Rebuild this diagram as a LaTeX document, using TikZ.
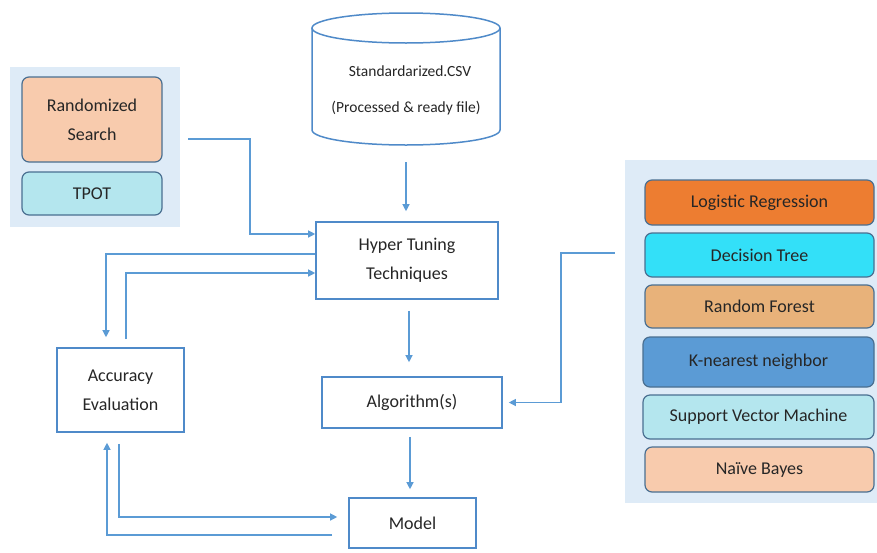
\documentclass[tikz,border=0pt]{standalone}
\usepackage{fontspec}
\setmainfont{Carlito}
\usetikzlibrary{arrows.meta}
\definecolor{lineblue}{HTML}{5B9BD5}
\definecolor{boxblue}{HTML}{4F8AC9}
\definecolor{panelbg}{HTML}{DEEBF7}
\definecolor{rborder}{HTML}{4A6F91}
\definecolor{peach}{HTML}{F8CBAD}
\definecolor{lcyan}{HTML}{B4E6EE}
\definecolor{orangeb}{HTML}{ED7D31}
\definecolor{cyanb}{HTML}{33E0F8}
\definecolor{tanb}{HTML}{E8B27A}
\definecolor{knnb}{HTML}{5B9BD5}
\definecolor{txt}{HTML}{262626}
\tikzset{
  arr/.style={draw=lineblue, line width=1.2pt, -{Triangle[width=7pt,length=7pt]}},
  mainbox/.style={draw=boxblue, line width=1.6pt, fill=white, text=txt, align=center, font=\fontsize{18}{29}\selectfont, inner sep=0pt},
  panel/.style={fill=panelbg, draw=none, inner sep=0pt},
  rbox/.style={draw=rborder, line width=1.2pt, rounded corners=7pt, text=txt, align=center, font=\fontsize{18}{29}\selectfont, inner sep=0pt},
}
\begin{document}
\begin{tikzpicture}[x=1pt,y=-1pt]
\useasboundingbox (0,0) rectangle (877,552);
\fill[white] (0,0) rectangle (877,552);
% panels
\node[panel, minimum width=170pt, minimum height=160pt] (lpanel) at (95,147) {};
\node[panel, minimum width=270pt, minimum height=343pt] (rpanel) at (760,331.5) {};
% left panel boxes
\node[rbox, fill=peach, minimum width=140pt, minimum height=85pt] (rs) at (92,119.5) {Randomized\\Search};
\node[rbox, fill=lcyan, minimum width=140pt, minimum height=43pt] (tpot) at (92,193.5) {TPOT};
% right panel boxes
\node[rbox, fill=orangeb, minimum width=229pt, minimum height=45pt] (lr) at (759.5,202.5) {Logistic Regression};
\node[rbox, fill=cyanb, minimum width=229pt, minimum height=44pt] (dt) at (759.5,255) {Decision Tree};
\node[rbox, fill=tanb, minimum width=229pt, minimum height=43pt] (rf) at (759.5,306.5) {Random Forest};
\node[rbox, fill=knnb, minimum width=231pt, minimum height=50pt] (knn) at (758.5,362) {K-nearest neighbor};
\node[rbox, fill=lcyan, minimum width=231pt, minimum height=44pt] (svm) at (758.5,417) {Support Vector Machine};
\node[rbox, fill=peach, minimum width=229pt, minimum height=45pt] (nb) at (759.5,469.5) {Naïve Bayes};
% cylinder
\draw[draw=boxblue, line width=1.5pt, fill=white] (312,28) -- (312,130) arc[start angle=180, end angle=360, x radius=94, y radius=-15] -- (500,28);
\draw[draw=boxblue, line width=1.5pt, fill=white] (406,28) ellipse[x radius=94, y radius=15];
\node[inner sep=0pt, minimum width=188pt, minimum height=132pt] (csv) at (406,79) {};
\node[text=txt, font=\fontsize{15.5}{20}\selectfont] (csvt1) at (410,71) {Standardarized.CSV};
\node[text=txt, font=\fontsize{15.5}{20}\selectfont] (csvt2) at (406,108) {(Processed \& ready file)};
% main boxes
\node[mainbox, minimum width=182pt, minimum height=77pt] (hyper) at (407,260.5) {Hyper Tuning\\Techniques};
\node[mainbox, minimum width=180pt, minimum height=51pt] (algo) at (412,402.5) {Algorithm(s)};
\node[mainbox, minimum width=127pt, minimum height=50pt] (model) at (412.5,523) {Model};
\node[mainbox, minimum width=127pt, minimum height=84pt] (acc) at (120.5,390) {Accuracy\\Evaluation};
% connectors
\draw[arr, shorten <=17pt, shorten >=10pt] (csv.south) -- (csv.south |- hyper.north);
\draw[arr, shorten <=11pt, shorten >=14pt] ([xshift=2pt]hyper.south) -- ([xshift=2pt]hyper.south |- algo.north);
\draw[arr, shorten <=8pt, shorten >=8pt] ([xshift=-2pt]algo.south) -- ([xshift=-2pt]algo.south |- model.north);
\coordinate (rsout) at (188,139);
\draw[arr] (rsout) -- (250,139) |- ([yshift=26.5pt]hyper.west);
\draw[arr, shorten >=10pt] ([yshift=6.5pt]hyper.west) -| ([xshift=-14.5pt]acc.north);
\draw[arr, shorten <=8pt] ([xshift=5.5pt]acc.north) |- ([yshift=-12.5pt]hyper.west);
\draw[arr, shorten >=6pt] ([xshift=-10pt,yshift=78.5pt]rpanel.west) -- (561,253) |- (algo.east);
\draw[arr, shorten <=11pt, shorten >=11pt] ([xshift=-1.5pt]acc.south) |- ([yshift=6pt]model.west);
\draw[arr, shorten <=16pt, shorten >=10pt] ([yshift=-12pt]model.west) -| ([xshift=-13.5pt]acc.south);
\end{tikzpicture}
\end{document}
